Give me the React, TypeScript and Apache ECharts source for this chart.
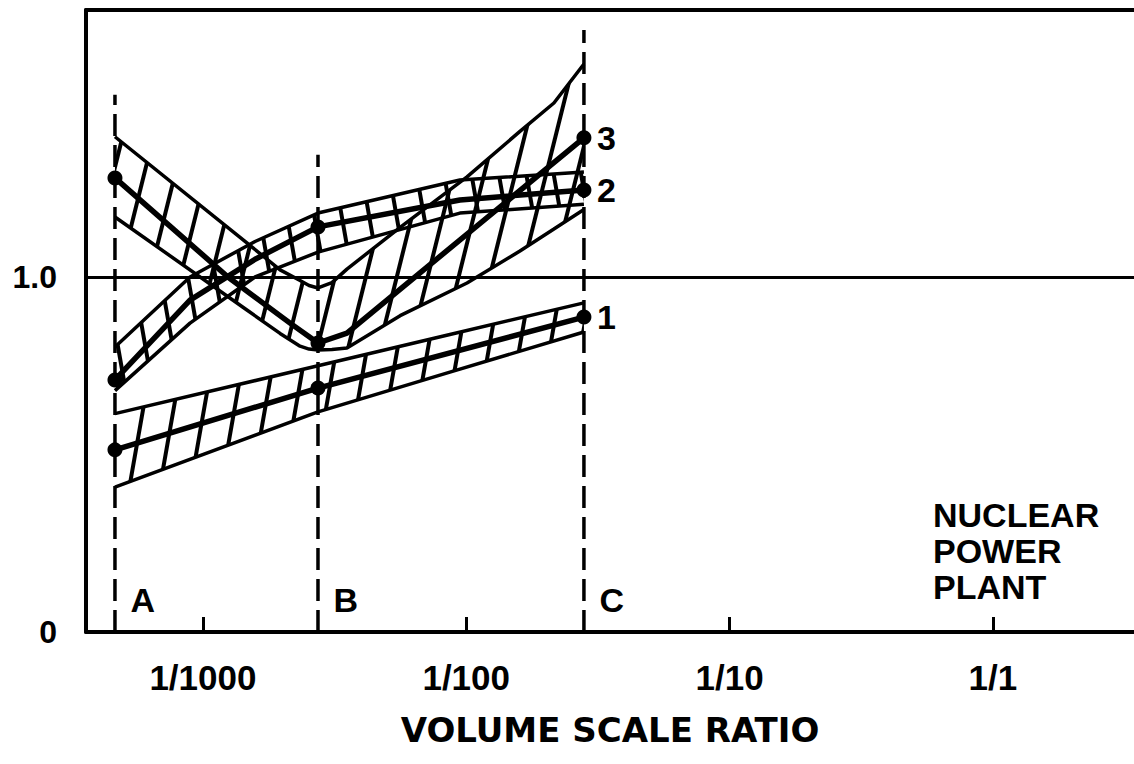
import React, { useEffect, useRef } from 'react';
import * as echarts from 'echarts';

// x values are log10 of the volume scale ratio
const X_MIN = -3.444;
const X_MAX = 0.536;
const Y_MIN = 0;
const Y_MAX = 1.752;

const TICK_EXPONENTS = [-3, -2, -1, 0];
const TICK_LABELS = ['1/1000', '1/100', '1/10', '1/1'];
const Y_TICKS = [0, 1];
const Y_TICK_LABELS = ['0', '1.0'];
const REFERENCE_LEVEL = 1.0;

// model scales A, B, C
const SCALE_NAMES = ['A', 'B', 'C'];
const SCALE_X = [-3.334, -2.563, -1.553];
const GUIDE_TOP = [1.513, 1.344, 1.696];
const LETTER_Y = 0.09;

// band 1
const B1_X = [-3.334, -2.563, -2.062, -1.553];
const B1_UPPER = [0.615, 0.75, 0.838, 0.927];
const B1_LOWER = [0.408, 0.62, 0.732, 0.845];
const B1_CENTER_X = [-3.334, -2.563, -1.553];
const B1_CENTER = [0.513, 0.687, 0.887];

// band 2
const B2_X = [-3.334, -3.049, -2.802, -2.563, -2.024, -1.553];
const B2_UPPER = [0.803, 1.0, 1.1, 1.18, 1.273, 1.296];
const B2_LOWER = [0.68, 0.87, 1.0, 1.07, 1.18, 1.205];
const B2_CENTER_X = [-3.334, -3.049, -2.802, -2.563, -2.024, -1.553];
const B2_CENTER = [0.71, 0.935, 1.05, 1.141, 1.217, 1.245];

// band 3
const B3_X = [-3.334, -2.833, -2.707, -2.631, -2.597, -2.563, -2.51, -2.453, -2.251, -1.997, -1.796, -1.667, -1.553];
const B3_UPPER = [1.395, 1.096, 1.02, 0.99, 0.976, 0.969, 0.984, 1.022, 1.14, 1.282, 1.41, 1.49, 1.6];
const B3_LOWER = [1.169, 0.907, 0.841, 0.805, 0.797, 0.794, 0.796, 0.8, 0.891, 0.983, 1.073, 1.135, 1.19];
const B3_CENTER_X = [-3.334, -2.905, -2.669, -2.563, -2.453, -1.553];
const B3_CENTER = [1.279, 1.0, 0.87, 0.814, 0.842, 1.392];

const BAND_NAMES = ['1', '2', '3'];

const FONT = 'Liberation Sans';
const INK = '#000';

function zip(xs: number[], ys: number[]) {
  return xs.map((x, i) => [x, ys[i]]);
}

// rows as [y, x] so that the stacked dimension is the y value
function zipYX(xs: number[], ys: number[]) {
  return xs.map((x, i) => [ys[i], x]);
}

function hatch(rotDeg: number, gap: number) {
  return {
    symbol: 'rect',
    symbolSize: 1,
    color: INK,
    backgroundColor: 'rgba(0,0,0,0)',
    dashArrayX: [1, 0],
    dashArrayY: [4, gap - 4],
    rotation: (rotDeg * Math.PI) / 180,
  };
}

function bandSeries(key: string, xs: number[], lower: number[], upper: number[], decal: any) {
  const diff = upper.map((u, i) => u - lower[i]);
  return [
    {
      type: 'line',
      name: key + '-lower',
      stack: key,
      encode: { x: 1, y: 0 },
      data: zipYX(xs, lower),
      symbol: 'none',
      lineStyle: { color: INK, width: 3.5 },
      itemStyle: { color: INK },
      z: 3,
    },
    {
      type: 'line',
      name: key + '-upper',
      stack: key,
      encode: { x: 1, y: 0 },
      data: zipYX(xs, diff),
      symbol: 'none',
      lineStyle: { color: INK, width: 3.5, decal },
      itemStyle: { color: INK, decal },
      areaStyle: { color: 'rgba(0,0,0,0)', opacity: 1 },
      z: 3,
    },
  ];
}

function centerSeries(name: string, xs: number[], ys: number[]) {
  return {
    type: 'line',
    name: 'center-' + name,
    data: zip(xs, ys),
    symbol: 'circle',
    showSymbol: true,
    symbolSize: (val: number[]) => (SCALE_X.includes(val[0]) ? 15 : 0),
    lineStyle: { color: INK, width: 5.5 },
    itemStyle: { color: INK },
    endLabel: {
      show: true,
      formatter: name,
      color: INK,
      fontSize: 34,
      fontWeight: 'bold',
      fontFamily: FONT,
      distance: 13,
    },
    z: 5,
  };
}

export default function App() {
  const ref = useRef<HTMLDivElement>(null);

  useEffect(() => {
    if (!ref.current) return;
    const chart = echarts.init(ref.current, null, { renderer: 'svg' });

    const guides = SCALE_X.map((x, i) => ({
      type: 'line',
      name: 'guide-' + SCALE_NAMES[i],
      data: [
        [x, 0],
        [x, GUIDE_TOP[i]],
      ],
      symbol: 'none',
      lineStyle: { color: INK, width: 3.5, type: [22, 9] },
      z: 2,
      ...(i === 0
        ? {
            markLine: {
              silent: true,
              symbol: 'none',
              label: { show: false },
              lineStyle: { color: INK, width: 3, type: 'solid' },
              data: [{ yAxis: REFERENCE_LEVEL }],
            },
          }
        : {}),
    }));

    const letters = {
      type: 'scatter',
      name: 'letters',
      symbolSize: 1,
      itemStyle: { color: 'rgba(0,0,0,0)', opacity: 1 },
      data: SCALE_X.map((x, i) => ({ name: SCALE_NAMES[i], value: [x, LETTER_Y] })),
      label: {
        show: true,
        position: 'right',
        distance: 15,
        formatter: '{b}',
        color: INK,
        opacity: 1,
        fontSize: 34,
        fontWeight: 'bold',
        fontFamily: FONT,
      },
      z: 6,
    };

    const option: any = {
      animation: false,
      backgroundColor: '#fff',
      grid: { left: 86, right: 0, top: 10, bottom: 132 },
      xAxis: [
        {
          type: 'value',
          min: X_MIN,
          max: X_MAX,
          name: 'VOLUME SCALE RATIO',
          nameLocation: 'middle',
          nameGap: 81,
          nameTextStyle: { color: INK, fontSize: 34, fontWeight: 'bold', fontFamily: 'DejaVu Sans' },
          axisLine: { show: true, onZero: false, lineStyle: { color: INK, width: 4 } },
          axisTick: {
            show: true,
            inside: true,
            length: 15,
            customValues: TICK_EXPONENTS,
            lineStyle: { color: INK, width: 3 },
          },
          axisLabel: {
            show: true,
            customValues: TICK_EXPONENTS,
            formatter: (v: number) => {
              const i = TICK_EXPONENTS.findIndex((t) => Math.abs(t - v) < 1e-6);
              return i >= 0 ? TICK_LABELS[i] : '';
            },
            margin: 28,
            color: INK,
            fontSize: 35,
            fontWeight: 'bold',
            fontFamily: FONT,
          },
          splitLine: { show: false },
        },
        {
          type: 'value',
          position: 'top',
          min: X_MIN,
          max: X_MAX,
          axisLine: { show: true, onZero: false, lineStyle: { color: INK, width: 4 } },
          axisTick: { show: false },
          axisLabel: { show: false },
          splitLine: { show: false },
        },
      ],
      yAxis: {
        type: 'value',
        min: Y_MIN,
        max: Y_MAX,
        axisLine: { show: true, onZero: false, lineStyle: { color: INK, width: 4 } },
        axisTick: { show: false },
        axisLabel: {
          show: true,
          customValues: Y_TICKS,
          formatter: (v: number) => {
            const i = Y_TICKS.findIndex((t) => Math.abs(t - v) < 1e-6);
            return i >= 0 ? Y_TICK_LABELS[i] : '';
          },
          margin: 29,
          color: INK,
          fontSize: 32,
          fontWeight: 'bold',
          fontFamily: FONT,
        },
        splitLine: { show: false },
      },
      graphic: [
        {
          type: 'text',
          left: 933,
          top: 497,
          style: {
            text: 'NUCLEAR\nPOWER\nPLANT',
            font: 'bold 34px "Liberation Sans"',
            lineHeight: 36,
            fill: INK,
          },
        },
      ],
      series: [
        ...guides,
        ...bandSeries('b1', B1_X, B1_LOWER, B1_UPPER, hatch(-80, 30)),
        ...bandSeries('b2', B2_X, B2_LOWER, B2_UPPER, hatch(-100, 27)),
        ...bandSeries('b3', B3_X, B3_LOWER, B3_UPPER, hatch(-76, 30)),
        centerSeries(BAND_NAMES[0], B1_CENTER_X, B1_CENTER),
        centerSeries(BAND_NAMES[1], B2_CENTER_X, B2_CENTER),
        centerSeries(BAND_NAMES[2], B3_CENTER_X, B3_CENTER),
        letters,
      ],
    };

    chart.setOption(option);
    return () => chart.dispose();
  }, []);

  return (
    <div
      ref={ref}
      style={{ position: 'absolute', left: 0, top: 0, width: 1134, height: 764, background: '#fff' }}
    />
  );
}
